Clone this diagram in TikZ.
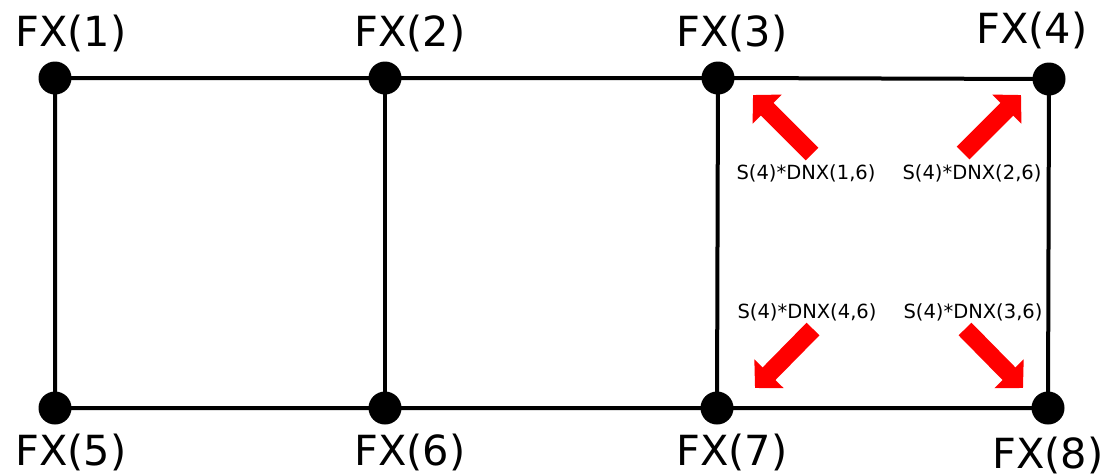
\documentclass[tikz,border=0pt]{standalone}
\usepackage{fontspec}
\setmainfont{DejaVu Sans}
\usepackage{xcolor}
\definecolor{fxred}{RGB}{255,0,0}
\usetikzlibrary{arrows.meta}
\tikzset{
  dot/.style={circle,fill=black,inner sep=0pt,minimum size=33pt},
  fxlab/.style={align=center,inner sep=0pt,font=\fontsize{41.5}{45}\selectfont},
  slab/.style={align=center,inner sep=0pt,font=\fontsize{19.5}{22}\selectfont},
  edge/.style={line width=4pt,draw=black},
  force/.style={-{Triangle[length=20pt,width=40pt]},line width=18pt,draw=fxred},
}

\begin{document}
\begin{tikzpicture}[x=1pt,y=-1pt]
    \useasboundingbox (0,0) rectangle (1115,475);
    \clip (0,0) rectangle (1115,475);
    % grid lines under the points
    \foreach \n/\x/\y in {1/55/78,2/385/78,3/718/78,4/1049/79,5/55/408,6/385/408,7/717/408,8/1048/408}{\coordinate (c\n) at (\x,\y);}
    \draw[edge] (c1)--(c2)--(c3)--(c4)--(c8)--(c7)--(c6)--(c5)--(c1);
    \draw[edge] (c2)--(c6); \draw[edge] (c3)--(c7);
    \foreach \n in {1,...,8}{\node[dot] (p\n) at (c\n) {};}
    % point labels
    \foreach \n/\x/\y in {1/71/33,2/410/33,3/732/33,4/1032/30,5/71/452,6/410/452,7/732/452,8/1048/455}{\node[fxlab] (l\n) at (\x,\y) {FX(\n)};}
    % nodal forces
    \node[slab] (s1) at (806,173) {S(4)*DNX(1,6)};
    \node[slab] (s2) at (972,173) {S(4)*DNX(2,6)};
    \node[slab] (s4) at (807,312) {S(4)*DNX(4,6)};
    \node[slab] (s3) at (973,312) {S(4)*DNX(3,6)};
    \coordinate (t1) at (812,154); \coordinate (h1) at (753,95);
    \coordinate (t2) at (963,153); \coordinate (h2) at (1021,95);
    \coordinate (t4) at (813,329); \coordinate (h4) at (755,388);
    \coordinate (t3) at (965,329); \coordinate (h3) at (1023,388);
    \foreach \n in {1,...,4}{\draw[force] (t\n)--(h\n);}
  \end{tikzpicture}
\end{document}
